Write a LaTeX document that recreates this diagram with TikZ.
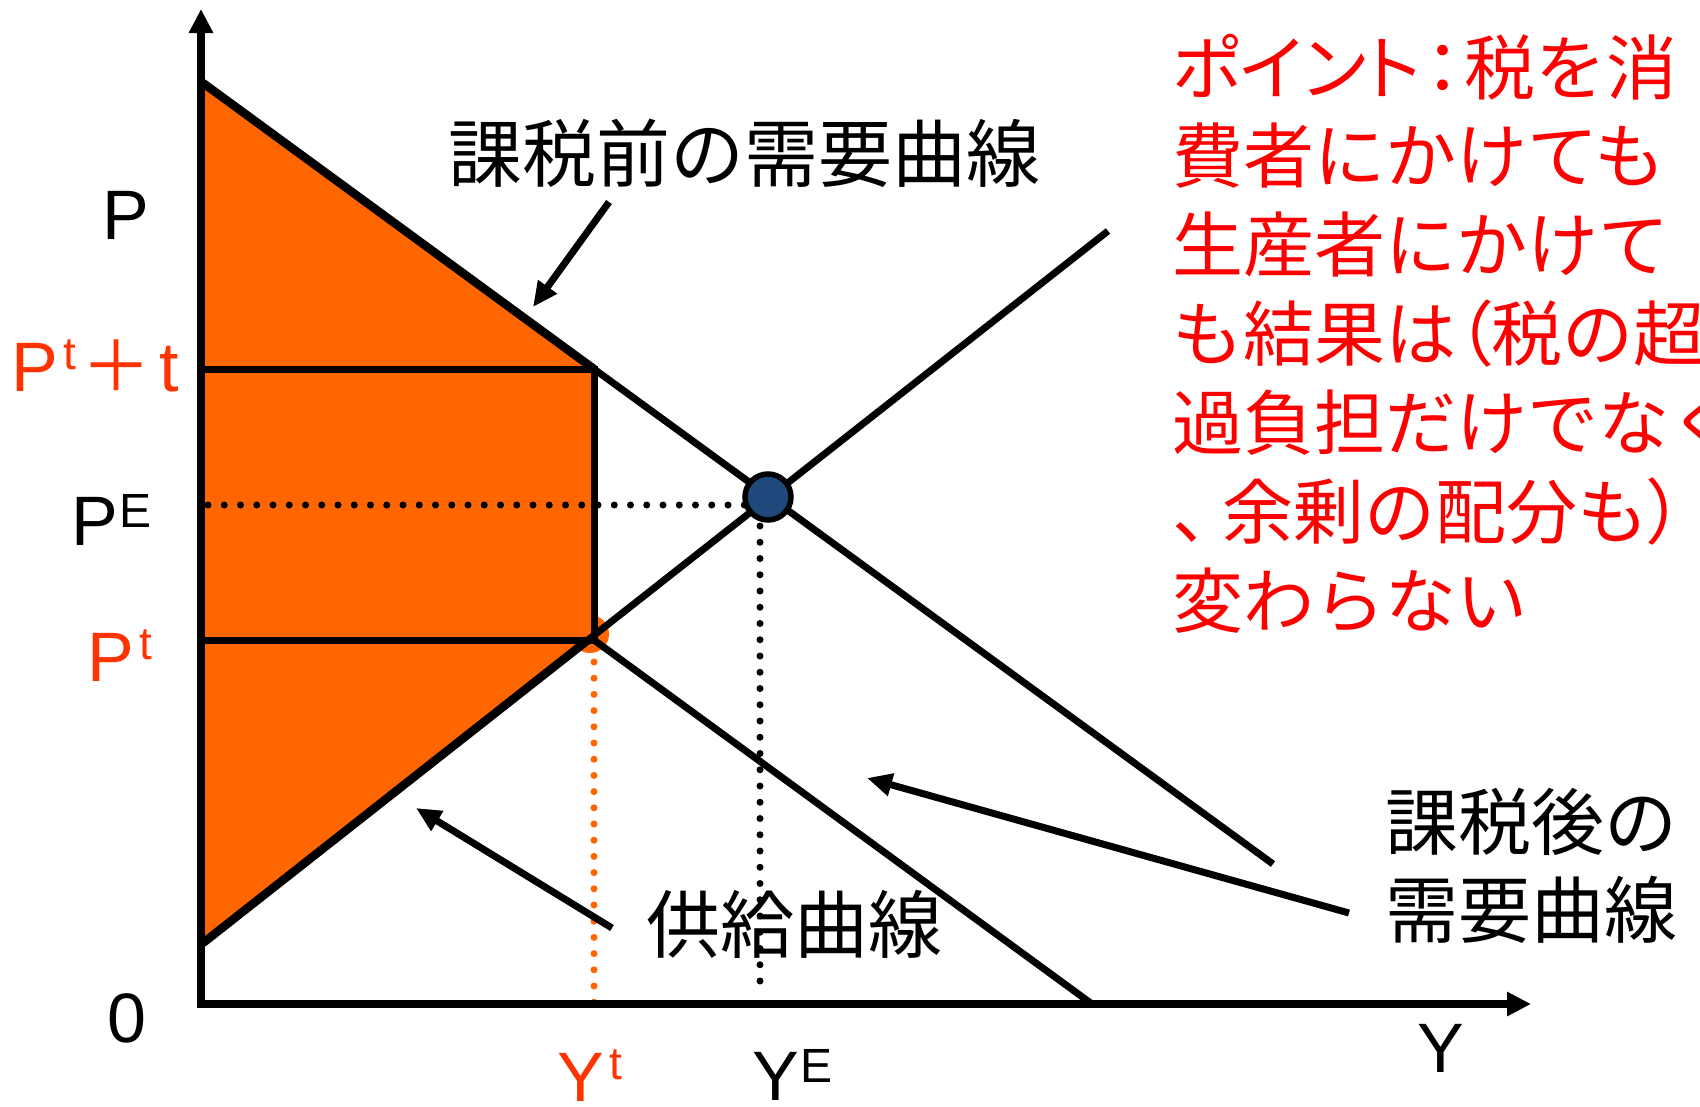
\documentclass[tikz,border=0pt]{standalone}
\usepackage{fontspec}
\setmainfont{Liberation Sans}
\newfontfamily\jp{Noto Sans CJK JP}
\usetikzlibrary{arrows.meta}
\definecolor{fillor}{RGB}{255,102,0}
\definecolor{labor}{RGB}{255,51,0}
\definecolor{navy}{RGB}{31,73,125}
\newcommand\supx[3]{\raisebox{#2}{\fontsize{#1}{#1}\selectfont #3}}
\newcommand\supt{\hspace{6pt}\supx{46pt}{22pt}{t}}
\newcommand\supE{\hspace{2pt}\supx{48pt}{18pt}{E}}
\begin{document}
\begin{tikzpicture}[x=1pt,y=-1pt,
  thinln/.style={line width=7pt},
  thickln/.style={line width=8.5pt},
  axisln/.style={line width=8pt,-{Triangle[length=24pt,width=23pt]}},
  callout/.style={line width=7pt,-{Triangle[length=25pt,width=22pt]}},
  dotblack/.style={line width=7pt,line cap=round,dash pattern=on 0pt off 16.25pt},
  dotorange/.style={line width=7pt,line cap=round,dash pattern=on 0pt off 16.2pt,draw=fillor},
  lat/.style={inner sep=0pt,outer sep=0pt,anchor=base west,font=\fontsize{70pt}{84pt}\selectfont},
  jpl/.style={inner sep=0pt,outer sep=0pt,anchor=west,font=\jp\fontsize{74pt}{88pt}\selectfont},
  redtxt/.style={inner sep=0pt,outer sep=0pt,anchor=west,text=red,font=\jp\fontsize{71pt}{89pt}\selectfont}
]
\clip (0,0) rectangle (1700,1106);
\fill[white] (0,0) rectangle (1700,1106);
% key points
\coordinate (O) at (203,1004);
\coordinate (Ytop) at (201,9);
\coordinate (Xend) at (1531,1004);
\coordinate (D0) at (203,83);
\coordinate (Dt) at (594,369);
\coordinate (D1) at (1273,864);
\coordinate (S0) at (203,943);
\coordinate (St) at (588,640);
\coordinate (S1) at (1108,231);
\coordinate (Ct) at (594,640);
\coordinate (C1) at (1092,1004);
\coordinate (Pl) at (203,369);
\coordinate (Ptl) at (203,640);
\coordinate (E) at (768,497);
% shaded area
\fill[fillor] (D0) -- (Dt) -- (Ct) -- (St) -- (S0) -- cycle;
\fill[fillor] (590,634) circle[radius=19pt];
% dotted guides
\draw[dotblack] (208,505) -- (752,505);
\draw[dotorange] (594,662) -- (594,1004);
% curves
\draw[thinln] (Dt) -- (D1);
\draw[thinln] (St) -- (S1);
\draw[thinln] (Ct) -- (C1);
\draw[thickln] (D0) -- (Dt);
\draw[thickln] (S0) -- (St);
\draw[thinln] (Pl) -- (Dt) -- (Ct) -- (Ptl);
% axes
\draw[axisln] (201,1008) -- (Ytop);
\draw[axisln] (197,1004) -- (Xend);
% equilibrium
\draw[line width=5.5pt,fill=navy] (E) circle[radius=23pt];
% axis labels
\node[lat] (lP) at (102,239) {P};
\node[lat,text=labor] (lPtt) at (11,391) {P\supt\hspace{5pt}{\jp ＋}\hspace{8pt}t};
\node[lat] (lPE) at (71,545) {P\supE};
\node[lat,text=labor] (lPt) at (87,681) {P\supt};
\node[lat] (l0) at (107,1042) {0};
\node[lat,text=labor] (lYt) at (557,1101) {Y\supt};
\node[lat] (lYE) at (752,1100) {Y\supE};
\node[lat] (lY) at (1417,1072) {Y};
% curve labels
\node[jpl] (tb) at (448,153) {課税前の需要曲線};
\node[jpl] (ts) at (646,924) {供給曲線};
\node[jpl,font=\jp\fontsize{73pt}{88pt}\selectfont] (ta1) at (1385,822) {課税後の};
\node[jpl,font=\jp\fontsize{73pt}{88pt}\selectfont] (ta2) at (1385,910) {需要曲線};
\draw[dotblack] (760,526) -- (760,996);
% callout arrows
\coordinate (a1s) at (609,202);
\coordinate (a1e) at (533,307);
\coordinate (a2s) at (612,928);
\coordinate (a2e) at (416,808);
\coordinate (a3s) at (1349,913);
\coordinate (a3e) at (867,778);
\draw[callout] (a1s) -- (a1e);
\draw[callout] (a2s) -- (a2e);
\draw[callout] (a3s) -- (a3e);
% note
\foreach \t [count=\i] in {{{\addfontfeature{RawFeature=+palt}ポイント}\makebox[44pt]{：}税を消},
  {費者にかけても},{生産者にかけて},{も結果は{\addfontfeature{RawFeature=+palt}（}税の超},{過負担だけでなく},
  {\makebox[50pt][l]{、}余剰の配分も{\addfontfeature{RawFeature=+palt}）}},{変わらない}}
  \node[redtxt] (r\i) at (1172,{67+89*(\i-1)}) {\t};
\end{tikzpicture}
\end{document}
